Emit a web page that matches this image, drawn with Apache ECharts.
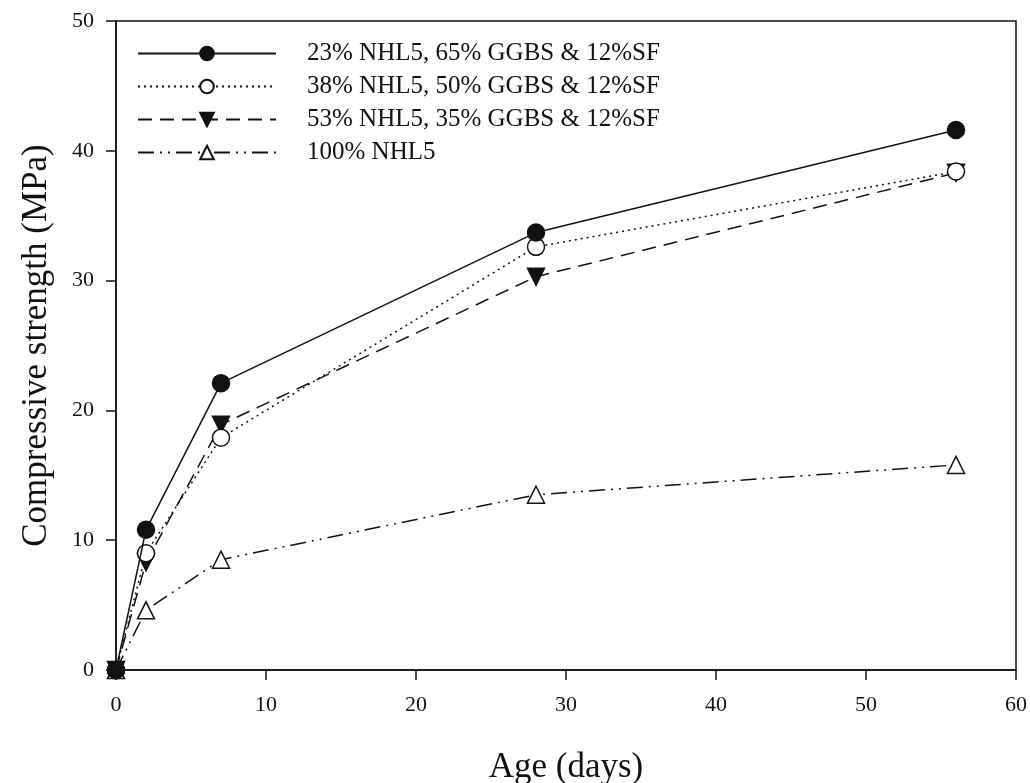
<!DOCTYPE html>
<html>
<head>
<meta charset="utf-8">
<script src="https://cdn.jsdelivr.net/npm/echarts@6/dist/echarts.min.js"></script>
<style>
  html, body { margin: 0; padding: 0; background: #fff; }
  #chart { width: 1030px; height: 783px; }
</style>
</head>
<body>
<div id="chart"></div>
<script>
// data
const ages = [0, 2, 7, 28, 56]
const names = [
  '23% NHL5, 65% GGBS & 12%SF',
  '38% NHL5, 50% GGBS & 12%SF',
  '53% NHL5, 35% GGBS & 12%SF',
  '100% NHL5'
]
const mix1 = [0, 10.8, 22.1, 33.7, 41.6]
const mix2 = [0, 9.0, 17.9, 32.6, 38.4]
const mix3 = [0, 8.3, 18.9, 30.3, 38.3]
const nhl5 = [0, 4.6, 8.5, 13.5, 15.8]
const xTicks = [0, 10, 20, 30, 40, 50, 60]
const yTicks = [0, 10, 20, 30, 40, 50]

const font = 'Liberation Serif'
const pairs = vals => ages.map((a, i) => [a, vals[i]])

const styles = [
  { data: mix1, symbol: 'circle', fill: '#111', dash: 'solid' },
  { data: mix2, symbol: 'circle', fill: '#fff', dash: [2, 4] },
  { data: mix3, symbol: 'triangle', fill: '#111', dash: [14, 8], rotate: 180 },
  { data: nhl5, symbol: 'triangle', fill: '#fff', dash: [16, 6, 2, 6, 2, 6] }
]

const chart = echarts.init(document.getElementById('chart'))
chart.setOption({
  animation: false,
  backgroundColor: '#fff',
  textStyle: { fontFamily: font },
  grid: {
    left: 116, right: 14, top: 21, bottom: 113,
    outerBoundsMode: 'none',
    containLabel: false,
    show: true, borderColor: '#111', borderWidth: 1.5, backgroundColor: 'transparent'
  },
  legend: {
    orient: 'vertical',
    left: 132,
    top: 36,
    itemWidth: 138,
    itemHeight: 17,
    itemGap: 8,
    textStyle: { fontFamily: font, fontSize: 25, lineHeight: 25, color: '#111', padding: [0, 0, 0, 26] },
    data: names
  },
  xAxis: {
    type: 'value',
    min: 0,
    max: 60,
    interval: 10,
    name: 'Age (days)',
    nameLocation: 'middle',
    nameGap: 80,
    nameTextStyle: { fontFamily: font, fontSize: 35, color: '#111' },
    axisLine: { onZero: false, lineStyle: { color: '#111', width: 1.5 } },
    axisTick: { show: true, inside: false, length: 10, lineStyle: { color: '#111', width: 1.5 } },
    axisLabel: { fontFamily: font, fontSize: 22, color: '#111', margin: 24, formatter: v => xTicks.includes(v) ? String(v) : '' },
    splitLine: { show: false }
  },
  yAxis: {
    type: 'value',
    min: 0,
    max: 50,
    interval: 10,
    name: 'Compressive strength (MPa)',
    nameLocation: 'middle',
    nameGap: 62,
    nameTextStyle: { fontFamily: font, fontSize: 35, color: '#111' },
    axisLine: { onZero: false, lineStyle: { color: '#111', width: 1.5 } },
    axisTick: { show: true, inside: false, length: 10, lineStyle: { color: '#111', width: 1.5 } },
    axisLabel: { fontFamily: font, fontSize: 22, color: '#111', margin: 22, formatter: v => yTicks.includes(v) ? String(v) : '' },
    splitLine: { show: false }
  },
  series: styles.map((s, i) => ({
    name: names[i],
    type: 'line',
    data: pairs(s.data),
    symbol: s.symbol,
    symbolSize: 17,
    symbolRotate: s.rotate || 0,
    showAllSymbol: true,
    lineStyle: { color: '#111', width: 1.5, type: s.dash },
    itemStyle: { color: s.fill, borderColor: '#111', borderWidth: 1.5 },
    z: 10 - i
  }))
})
</script>
</body>
</html>
